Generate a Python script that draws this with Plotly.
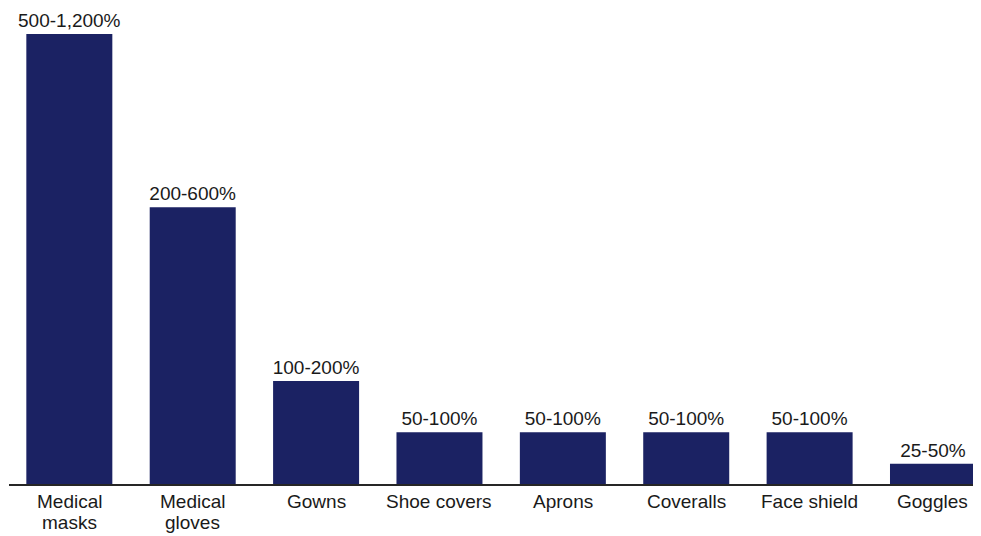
import plotly.graph_objects as go

# Data
categories = ["Medical masks", "Medical gloves", "Gowns", "Shoe covers",
              "Aprons", "Coveralls", "Face shield", "Goggles"]
label_lines = [["Medical", "masks"], ["Medical", "gloves"], ["Gowns"], ["Shoe covers"],
               ["Aprons"], ["Coveralls"], ["Face shield"], ["Goggles"]]
# relative bar heights (tallest = 100)
bar_heights = [100, 61.5, 22.9, 11.5, 11.5, 11.5, 11.5, 4.5]
range_labels = ["500-1,200%", "200-600%", "100-200%", "50-100%",
                "50-100%", "50-100%", "50-100%", "25-50%"]

FONT = "Liberation Sans, Arial, sans-serif"
TEXT_COLOR = "#1a1a1a"

fig = go.Figure(go.Bar(
    x=categories,
    y=bar_heights,
    text=range_labels,
    textposition="outside",
    constraintext="none",
    textfont=dict(family=FONT, size=19, color=TEXT_COLOR),
    marker=dict(color="#1b2263", line=dict(width=0)),
    cliponaxis=False,
    hoverinfo="skip",
))

annotations = []
for cat, lines in zip(categories, label_lines):
    for i, line in enumerate(lines):
        annotations.append(dict(
            x=cat, xref="x", y=0, yref="paper",
            yanchor="top", yshift=-5 - i * 20.7,
            text=line, showarrow=False,
            font=dict(family=FONT, size=19, color=TEXT_COLOR),
        ))

# The page body adds an 8px offset, so the figure is sized to fit the window
fig.update_layout(
    width=973, height=528,
    margin=dict(l=1, r=1, t=0, b=52),
    paper_bgcolor="white", plot_bgcolor="white",
    bargap=0.303,
    showlegend=False,
    annotations=annotations,
    xaxis=dict(
        range=[-0.489, 7.381],
        showticklabels=False, ticks="",
        showgrid=False, zeroline=False,
        showline=True, linecolor="#262626", linewidth=2,
    ),
    yaxis=dict(
        range=[0, 105.8],
        visible=False, showgrid=False, zeroline=False,
    ),
)

fig.write_html("out.html")
